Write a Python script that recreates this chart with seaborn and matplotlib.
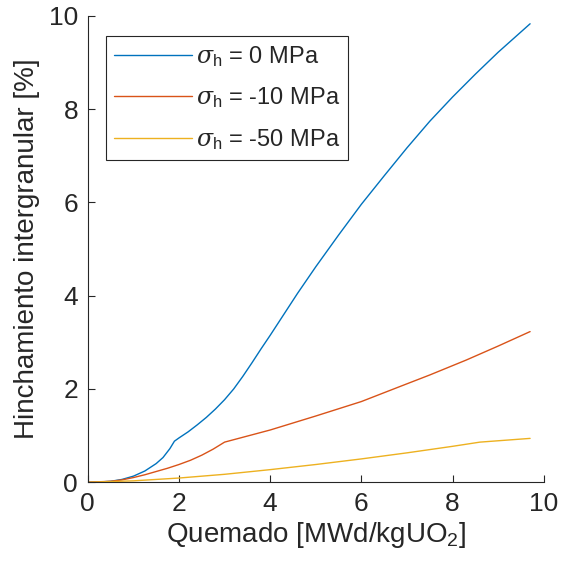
import matplotlib
matplotlib.use("Agg")
import matplotlib.pyplot as plt
import seaborn as sns
import pandas as pd

labels = [r"$\sigma_{\rm h}$ = 0 MPa", r"$\sigma_{\rm h}$ = -10 MPa", r"$\sigma_{\rm h}$ = -50 MPa"]
colors = ["#0072BD", "#D95319", "#EDB120"]

x0 = [0, 0.25, 0.5, 0.75, 1.0, 1.25, 1.5, 1.65, 1.8, 1.9, 2.0, 2.2, 2.4, 2.6, 2.8, 3.0, 3.2, 3.4,
      3.6, 3.8, 4.0, 4.3, 4.6, 5.0, 5.5, 6.0, 6.5, 7.0, 7.5, 8.0, 8.5, 9.0, 9.7]
y0 = [0, 0.005, 0.02, 0.06, 0.13, 0.24, 0.40, 0.53, 0.72, 0.88, 0.95, 1.08, 1.23, 1.39, 1.57, 1.77, 2.0, 2.27,
      2.56, 2.86, 3.15, 3.6, 4.05, 4.62, 5.30, 5.96, 6.57, 7.17, 7.74, 8.26, 8.75, 9.22, 9.83]

x10 = [0, 0.5, 0.75, 1.0, 1.25, 1.5, 1.75, 2.0, 2.25, 2.5, 2.75, 3.0, 3.5, 4.0, 5.0, 6.0, 6.84, 7.5, 8.3, 9.0, 9.7]
y10 = [0, 0.02, 0.05, 0.10, 0.16, 0.23, 0.30, 0.38, 0.47, 0.58, 0.71, 0.86, 0.99, 1.12, 1.42, 1.73, 2.05, 2.3, 2.62, 2.92, 3.23]

x50 = [0, 1, 2, 3, 4, 5, 6, 7, 8, 8.6, 9.7]
y50 = [0, 0.03, 0.09, 0.17, 0.27, 0.38, 0.5, 0.63, 0.77, 0.86, 0.94]

xticks = [0, 2, 4, 6, 8, 10]
yticks = [0, 2, 4, 6, 8, 10]

frames = []
for xs, ys, lab in [(x0, y0, labels[0]), (x10, y10, labels[1]), (x50, y50, labels[2])]:
    frames.append(pd.DataFrame({"x": xs, "y": ys, "serie": lab}))
df = pd.concat(frames, ignore_index=True)

sns.set_style("ticks")
plt.rcParams["font.family"] = ["Liberation Sans", "DejaVu Sans"]
plt.rcParams["mathtext.fontset"] = "custom"
plt.rcParams["mathtext.rm"] = "Liberation Sans"
plt.rcParams["mathtext.it"] = "DejaVu Serif:italic"

fig = plt.figure(figsize=(5.7, 5.66), dpi=100)
ax = fig.add_axes([0.154, 0.148, 0.8, 0.824])

sns.lineplot(data=df, x="x", y="y", hue="serie", palette=dict(zip(labels, colors)),
             hue_order=labels, linewidth=1.0, ax=ax, sort=False)

ax.set_xlim(0, 10)
ax.set_ylim(0, 10)
ax.set_xticks(xticks)
ax.set_yticks(yticks)
ax.tick_params(direction="in", length=5, width=0.8, colors="#262626", labelsize=19, pad=7)
for s in ["top", "right"]:
    ax.spines[s].set_visible(False)
for s in ["left", "bottom"]:
    ax.spines[s].set_color("#262626")
    ax.spines[s].set_linewidth(0.8)

ax.set_xlabel(r"Quemado [MWd/kgUO$_2$]", fontsize=20, color="#262626", labelpad=3)
ax.set_ylabel("Hinchamiento intergranular [%]", fontsize=20, color="#262626", labelpad=6)

leg = ax.legend(loc="upper left", bbox_to_anchor=(0.04, 0.957), fontsize=17, frameon=True,
                fancybox=False, edgecolor="#262626", handlelength=3.3, handletextpad=0.15,
                borderpad=0.35, labelspacing=0.7, framealpha=1, borderaxespad=0)
leg.get_frame().set_linewidth(0.8)
for t in leg.get_texts():
    t.set_color("#262626")

fig.savefig("out.png", dpi=100)
